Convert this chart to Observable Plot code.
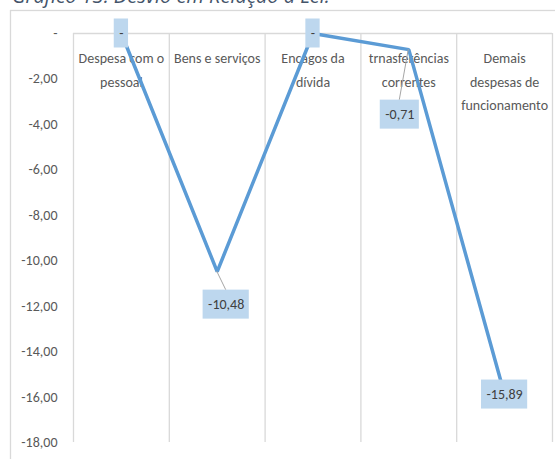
<!DOCTYPE html>
<html>
<head>
<meta charset="utf-8">
<script src="https://cdn.jsdelivr.net/npm/d3@7"></script>
<script src="https://cdn.jsdelivr.net/npm/@observablehq/plot@0.6"></script>
<style>
  html, body { margin: 0; padding: 0; background: #fff; overflow: hidden; }
  svg { display: block; overflow: visible; }
</style>
</head>
<body>
<script>
// Desvio em relação à Lei, por grupo de despesa
const categories = [
  "Despesa com o\npessoal",
  "Bens e serviços",
  "Encagos da\ndívida",
  "trnasferências\ncorrentes",
  "Demais\ndespesas de\nfuncionamento"
];
const desvio = [0, -10.48, 0, -0.71, -15.89];
const yTicks = [0, -2, -4, -6, -8, -10, -12, -14, -16, -18];
const title = "Gráfico 13: Desvio em Relação à Lei.";

// pixel nudges for the value callouts (dx, dy)
const labelNudge = [[0, 0], [9, 33], [0, 0], [-9, 65], [0, 0]];

const font = "Carlito, 'Liberation Sans Narrow', Lato, sans-serif";
const fmt = v => v === 0 ? "-" : v.toFixed(2).replace(".", ",");
const edges = d3.range(categories.length + 1).map(i => i - 0.5);

const plot = Plot.plot({
  width: 555,
  height: 459,
  marginLeft: 73,
  marginRight: 3,
  marginTop: 33,
  marginBottom: 17,
  style: { fontFamily: font, fontSize: "14px", color: "#595959", background: "transparent" },
  x: { domain: [-0.5, categories.length - 0.5], axis: null },
  y: { domain: [-18, 0], ticks: yTicks, tickFormat: fmt, tickSize: 0, tickPadding: 16, label: null },
  marks: [
    Plot.ruleX(edges, { stroke: "#D9D9D9", strokeWidth: 1.3 }),
    Plot.ruleY([0], { stroke: "#D9D9D9", strokeWidth: 1.3 }),
    Plot.text(categories, {
      x: (d, i) => i, y: 0, text: d => d,
      lineAnchor: "top", dy: 13, lineHeight: 1.68,
      fill: "#595959", fontSize: 14
    }),
    Plot.line(desvio, {
      x: (d, i) => i, y: d => d,
      stroke: "#5B9BD5", strokeWidth: 3.5,
      strokeLinejoin: "miter", strokeLinecap: "butt"
    }),
    ...desvio.map((v, i) => Plot.text([v], {
      x: () => i, y: d => d, text: fmt,
      dx: labelNudge[i][0], dy: labelNudge[i][1],
      fill: "#404040", fontSize: 14, ariaDescription: "value-label"
    }))
  ]
});

document.body.appendChild(plot);

const svg = d3.select(plot);
const xs = plot.scale("x"), ys = plot.scale("y");

// outer chart border
svg.insert("rect", ":first-child")
  .attr("x", 10.5).attr("y", 10.5)
  .attr("width", 600).attr("height", 500)
  .attr("fill", "#fff").attr("stroke", "#D9D9D9").attr("stroke-width", 1.3);

// title (sits at the top edge)
svg.append("text")
  .attr("x", 12).attr("y", 3)
  .attr("text-anchor", "start")
  .attr("font-family", "'Open Sans', sans-serif")
  .attr("font-style", "italic")
  .attr("font-size", 20)
  .attr("fill", "#44546A")
  .text(title);

// callout boxes and leader lines, placed under each value label
const boxH = 29, padX = 5;
svg.selectAll("g[aria-description='value-label']").each(function (_, k) {
  const t = d3.select(this).select("text").node();
  const w = t.getBBox().width + 2 * padX;
  const [dx, dy] = labelNudge[k];
  const px = xs.apply(k), py = ys.apply(desvio[k]);
  const cx = px + dx, cy = py + dy;
  svg.insert("rect", () => this)
    .attr("x", cx - w / 2).attr("y", cy - boxH / 2)
    .attr("width", w).attr("height", boxH)
    .attr("fill", "#BDD7EE");
  if (dx !== 0 || dy !== 0) {
    svg.insert("line", () => this)
      .attr("x1", px).attr("y1", py)
      .attr("x2", cx).attr("y2", cy - boxH / 2)
      .attr("stroke", "#A6A6A6").attr("stroke-width", 1);
  }
});
</script>
</body>
</html>
